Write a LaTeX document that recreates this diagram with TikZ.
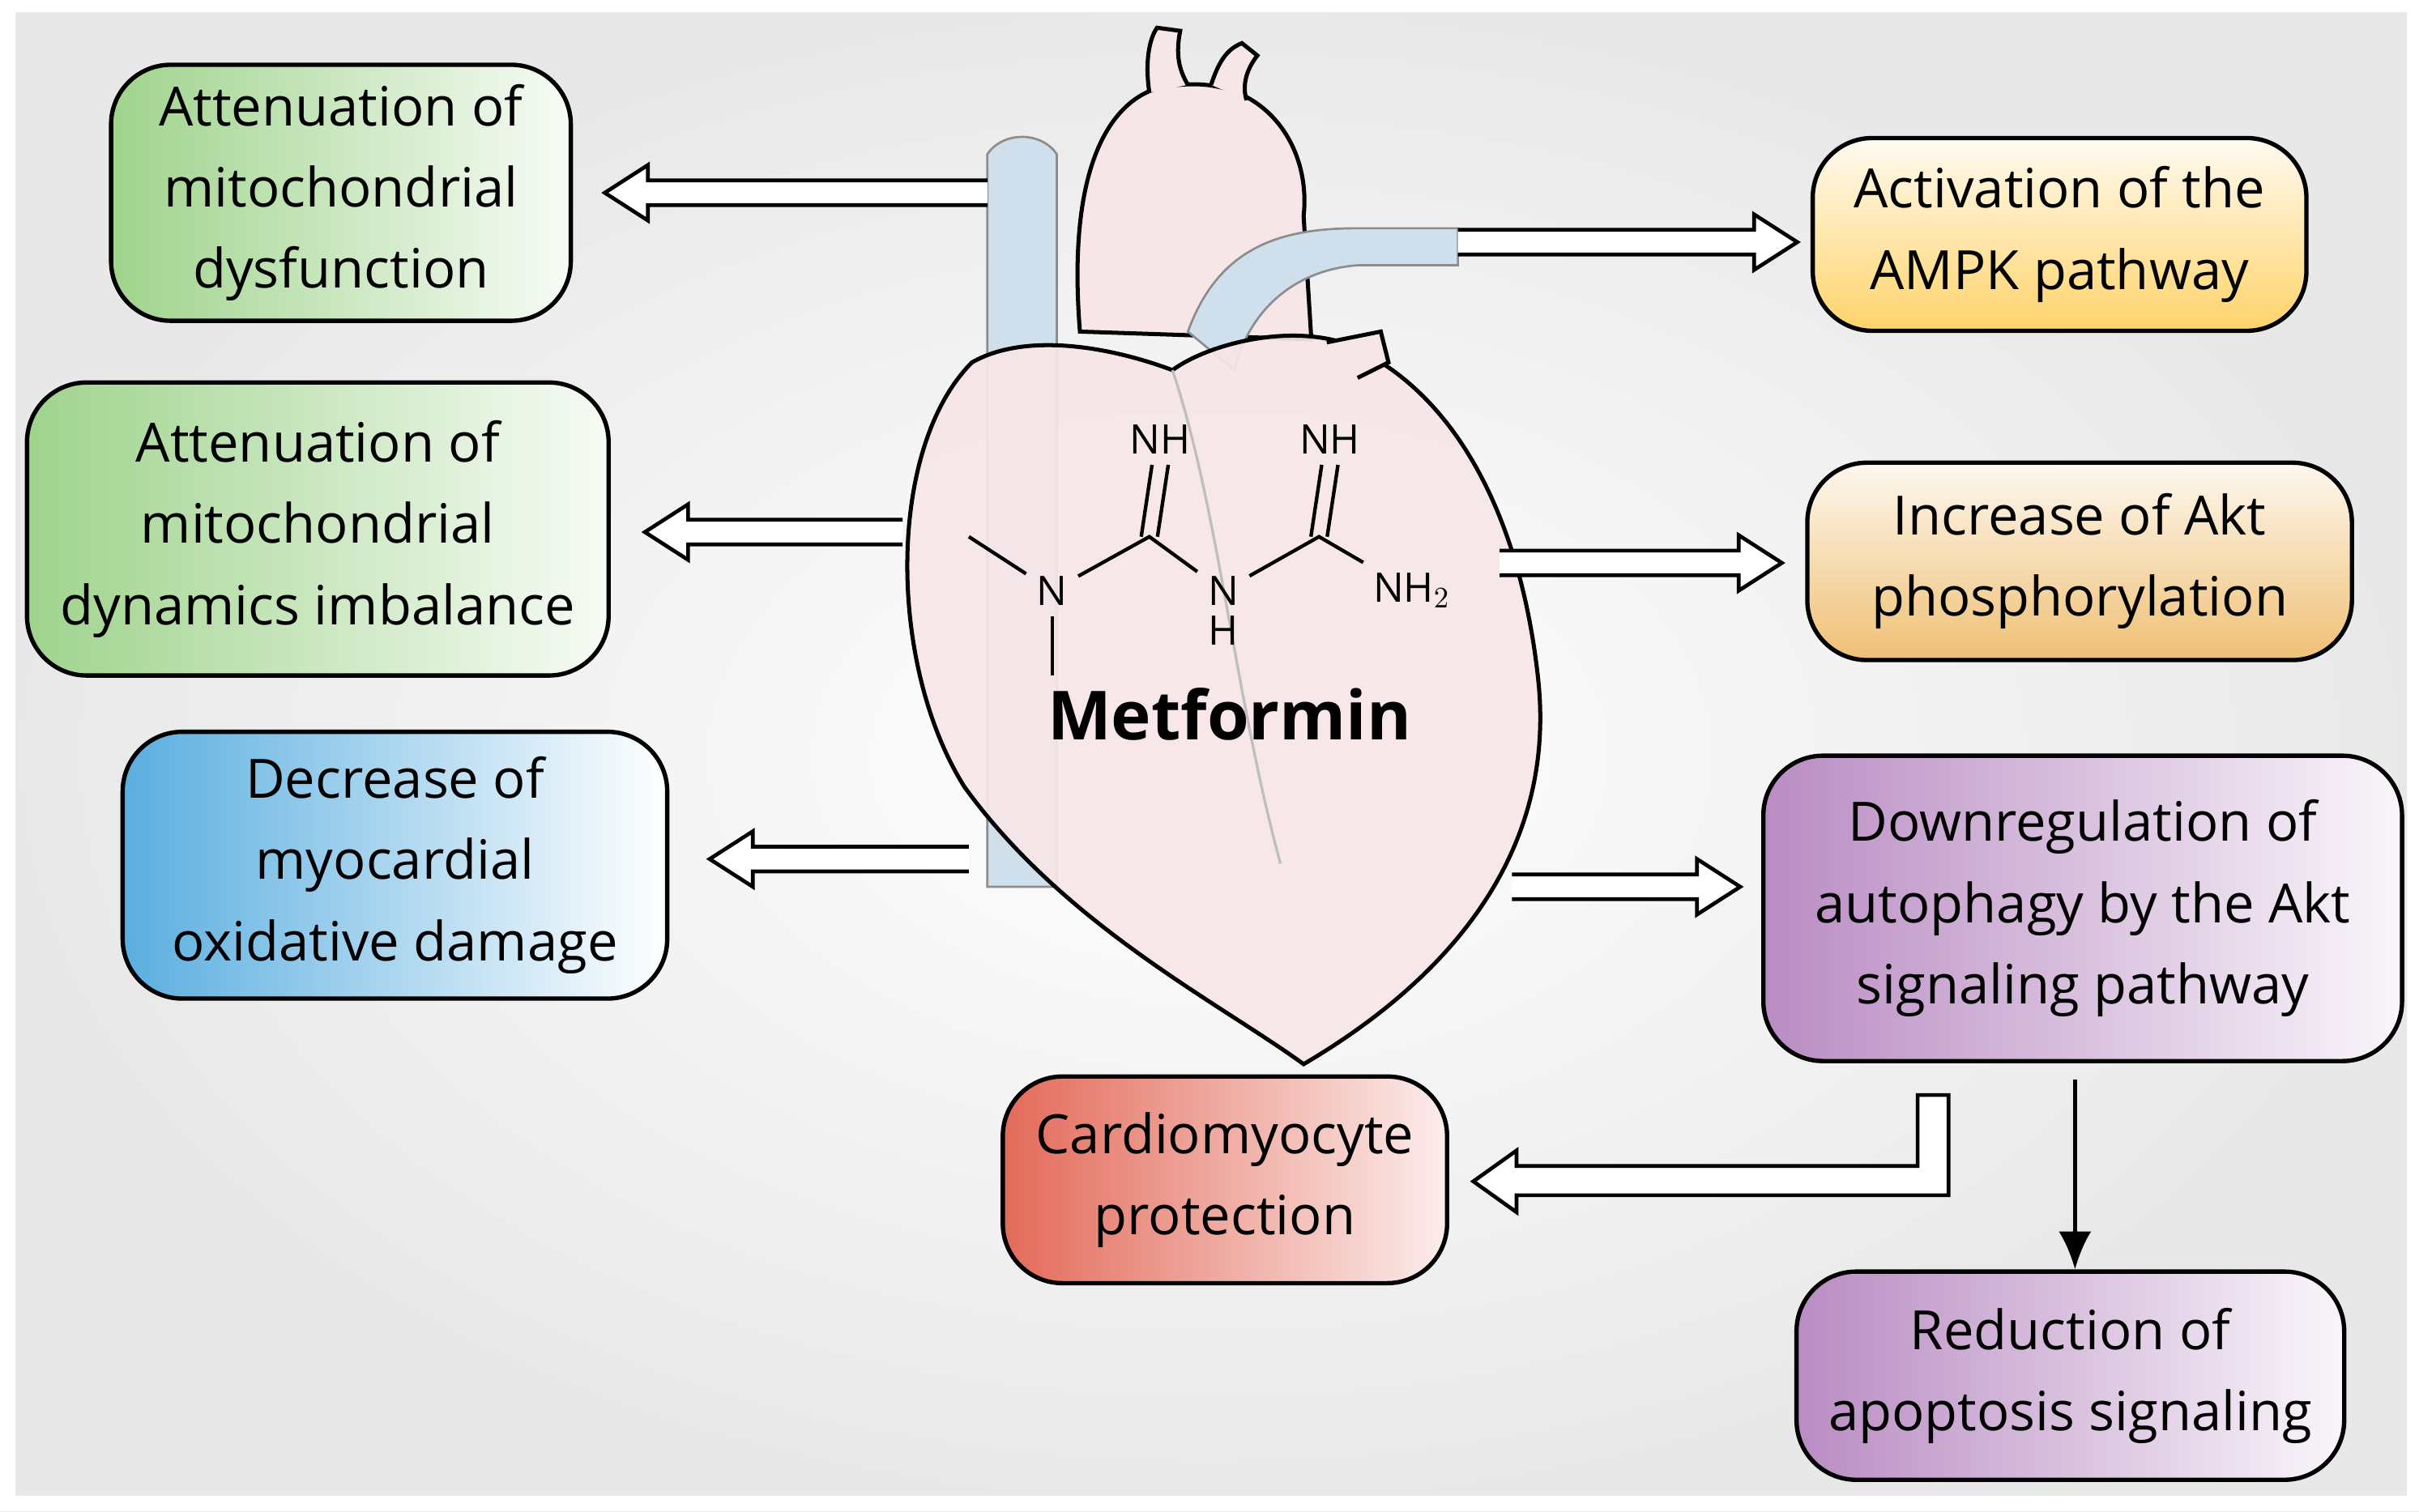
\documentclass[tikz,border=0pt]{standalone}
\usepackage{fontspec}
\setmainfont{Open Sans}
\usetikzlibrary{arrows.meta}
\begin{document}
\begin{tikzpicture}[x=0.02cm,y=-0.02cm,
 box/.style={draw=black,line width=1.6pt,rounded corners=22pt,align=center,font=\fontsize{20}{30}\selectfont,inner sep=0pt},
 harr/.style={draw=black,line width=1.4pt,fill=white,line join=miter},
 hl/.style={draw=black,line width=1.5pt,fill=heartpink},
 vein/.style={draw=black!45,line width=0.8pt,fill=veinblue}]
\definecolor{heartpink}{HTML}{F7E6E8}
\definecolor{veinblue}{HTML}{CFE0EC}
\definecolor{cg}{HTML}{9FD38C}
\definecolor{cb}{HTML}{5AAEE0}
\definecolor{cy}{HTML}{FFD36A}
\definecolor{co}{HTML}{EFC075}
\definecolor{cp}{HTML}{B98CC3}
\definecolor{cr}{HTML}{E36A5A}
\useasboundingbox (0,0) rectangle (1568,980);
\shade[inner color=white,outer color=black!9] (0,0) rectangle (1568,980);
\fill[white] (0,0) rectangle (1568,8);\fill[white] (0,970) rectangle (1568,980);
\fill[white] (0,0) rectangle (10,980);\fill[white] (1560,0) rectangle (1568,980);
% vessels behind
\draw[vein] (640,575) -- (640,100) .. controls (650,85) and (675,85) .. (685,100) -- (685,575) -- cycle;
% aorta arch
\draw[hl] (700,215) .. controls (690,90) and (730,55) .. (765,55) .. controls (820,50) and (850,95) .. (845,140) -- (850,220) -- cycle;
\draw[hl] (745,60) .. controls (742,40) and (745,25) .. (750,18) -- (765,20) .. controls (762,35) and (764,45) .. (770,55);
\draw[hl] (785,55) .. controls (790,40) and (795,32) .. (805,28) -- (815,36) .. controls (808,45) and (805,55) .. (808,65);
% pulmonary trunk
\draw[vein] (770,215) .. controls (790,160) and (830,148) .. (880,148) -- (945,148) -- (945,172) -- (880,172) .. controls (840,175) and (810,200) .. (800,240) -- cycle;
% body
\draw[hl,fill opacity=0.93] (630,235) .. controls (575,290) and (575,430) .. (625,510) .. controls (690,600) and (790,650) .. (845,690) .. controls (930,640) and (1010,560) .. (997,440) .. controls (985,330) and (940,250) .. (870,222) .. controls (830,210) and (780,225) .. (760,240) .. controls (720,225) and (665,215) .. (630,235) -- cycle;
\draw[black!25,line width=1pt] (760,240) .. controls (790,330) and (800,450) .. (830,560);
\draw[hl] (860,222) -- (895,215) -- (900,235) -- (880,245);
% metformin
\begin{scope}[line width=1.3pt,font=\fontsize{15}{15}\selectfont]
\node (n1) at (682,383) {N};
\node (n2) at (793,383) {N};
\node at (793,409) {H};
\node (nh1) at (752,285) {NH};
\node (nh2) at (862,285) {NH};
\node (nh3) at (915,383) {NH$_2$};
\coordinate (c1) at (745,348);\coordinate (c2) at (855,348);
\draw (628,348) -- (n1);\draw (n1) -- (682,438);
\draw (n1) -- (c1) -- (n2) -- (c2) -- (nh3);
\draw ([xshift=-3pt]c1) -- ([xshift=-3pt]nh1.south);\draw ([xshift=3pt]c1) -- ([xshift=3pt]nh1.south);
\draw ([xshift=-3pt]c2) -- ([xshift=-3pt]nh2.south);\draw ([xshift=3pt]c2) -- ([xshift=3pt]nh2.south);
\end{scope}
\node[font=\fontsize{25}{30}\selectfont\bfseries] (met) at (797,463) {Metformin};
% boxes
\node[box,left color=cg,right color=cg!8,minimum width=298*0.02cm,minimum height=166*0.02cm] (b1) at (221,125) {Attenuation of\\mitochondrial\\dysfunction};
\node[box,left color=cg,right color=cg!8,minimum width=377*0.02cm,minimum height=190*0.02cm] (b2) at (206,343) {Attenuation of\\mitochondrial\\dynamics imbalance};
\node[box,left color=cb,right color=white,minimum width=353*0.02cm,minimum height=173*0.02cm] (b3) at (256,561) {Decrease of\\myocardial\\oxidative damage};
\node[box,bottom color=cy,top color=cy!10,minimum width=320*0.02cm,minimum height=125*0.02cm] (b4) at (1335,152) {Activation of the\\AMPK pathway};
\node[box,bottom color=co,top color=co!12,minimum width=353*0.02cm,minimum height=128*0.02cm] (b5) at (1348,364) {Increase of Akt\\phosphorylation};
\node[box,left color=cp,right color=cp!8,minimum width=414*0.02cm,minimum height=198*0.02cm] (b6) at (1350,589) {Downregulation of\\autophagy by the Akt\\signaling pathway};
\node[box,left color=cr,right color=cr!12,minimum width=288*0.02cm,minimum height=134*0.02cm] (b7) at (794,765) {Cardiomyocyte\\protection};
\node[box,left color=cp,right color=cp!8,minimum width=355*0.02cm,minimum height=135*0.02cm] (b8) at (1342,892) {Reduction of\\apoptosis signaling};
% hollow arrows
\newcommand{\leftarr}[3]{\draw[harr] (#1,#3-8) -- (#2+28,#3-8) -- (#2+28,#3-18) -- (#2,#3) -- (#2+28,#3+18) -- (#2+28,#3+8) -- (#1,#3+8);}
\newcommand{\rightarr}[3]{\draw[harr] (#1,#3-8) -- (#2-28,#3-8) -- (#2-28,#3-18) -- (#2,#3) -- (#2-28,#3+18) -- (#2-28,#3+8) -- (#1,#3+8);}
\leftarr{640}{392}{125}
\leftarr{585}{418}{345}
\leftarr{628}{460}{557}
\rightarr{945}{1165}{157}
\rightarr{972}{1155}{365}
\rightarr{980}{1128}{575}
\draw[harr] (1243,710) -- (1263,710) -- (1263,775) -- (983,775) -- (983,786) -- (955,766) -- (983,746) -- (983,756) -- (1243,756) -- cycle;
\coordinate (t1) at (1345,700);
\draw[line width=1.4pt,-{Latex[length=14pt,width=12pt]}] (t1) -- (b8.north -| t1);
\end{tikzpicture}
\end{document}
